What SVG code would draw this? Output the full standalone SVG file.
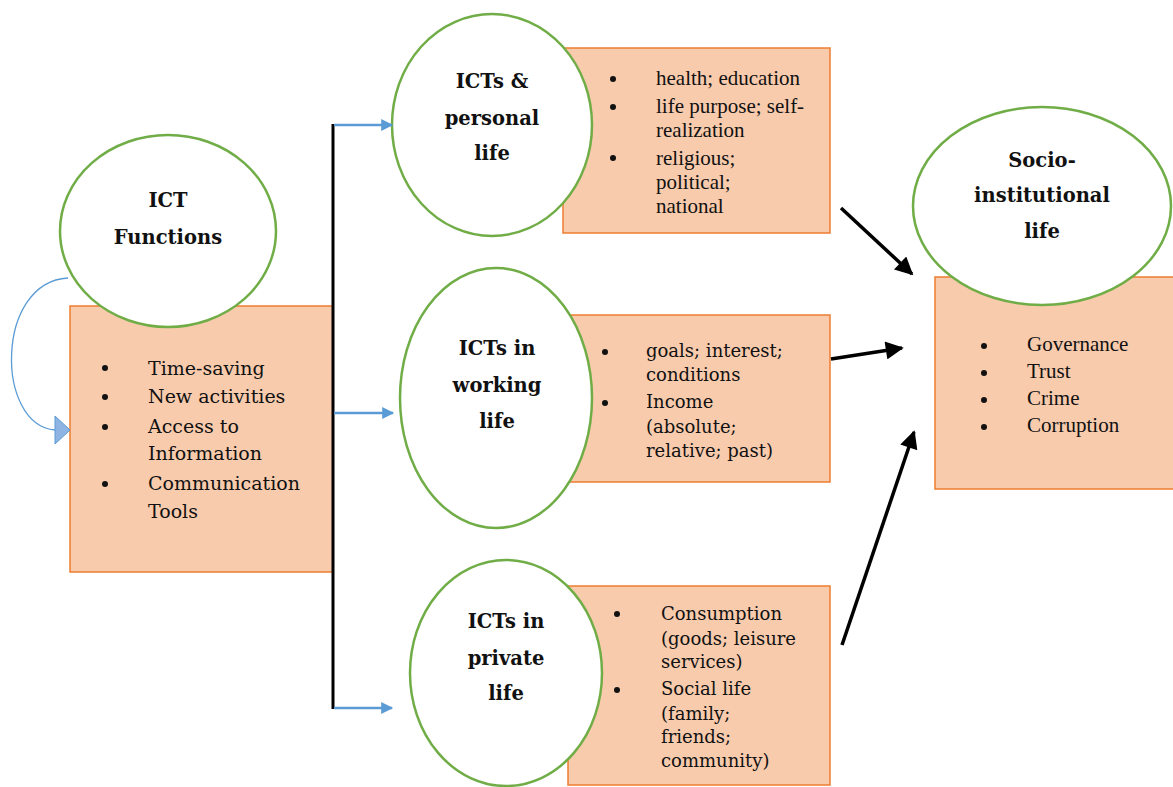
<svg xmlns="http://www.w3.org/2000/svg" width="1173" height="787" viewBox="0 0 1173 787">
<defs>
<style>
.box{fill:#F8CBAD;stroke:#ED7D31;stroke-width:1.5}
.ell{fill:#fff;stroke:#70AD47;stroke-width:2.5}
.lbl{font-family:"DejaVu Serif","Liberation Serif",serif;font-weight:bold;font-size:19.5px;fill:#111;text-anchor:middle}
.g{font-family:"DejaVu Serif","Liberation Serif",serif;font-size:19px;fill:#111}
.g2{font-family:"DejaVu Serif","Liberation Serif",serif;font-size:18px;fill:#111}
.t{font-family:"Liberation Serif","Times New Roman",serif;font-size:21px;fill:#111}
.bul{fill:#111}
.blue{stroke:#5B9BD5;stroke-width:2.5;fill:none}
.blk{stroke:#000;stroke-width:3.5;fill:none}
</style>
<marker id="ba" viewBox="0 0 10 10" refX="9" refY="5" markerWidth="14" markerHeight="12" markerUnits="userSpaceOnUse" orient="auto">
<path d="M0,0 L10,5 L0,10 z" fill="#5B9BD5"/>
</marker>
<marker id="ka" viewBox="0 0 10 10" refX="9" refY="5" markerWidth="20" markerHeight="18" markerUnits="userSpaceOnUse" orient="auto">
<path d="M0,0 L10,5 L0,10 z" fill="#000"/>
</marker>
</defs>

<g id="ict-functions">
<rect class="box" x="70" y="306" width="263" height="266"/>
<ellipse class="ell" cx="168" cy="231" rx="108" ry="96"/>
<text class="lbl" x="168" y="207">ICT</text>
<text class="lbl" x="168" y="244">Functions</text>
<g class="g">
<circle class="bul" cx="105" cy="368" r="3"/><text x="148" y="375">Time-saving</text>
<circle class="bul" cx="105" cy="397" r="3"/><text x="148" y="403">New activities</text>
<circle class="bul" cx="105" cy="427" r="3"/><text x="148" y="433">Access to</text>
<text x="148" y="460">Information</text>
<circle class="bul" cx="105" cy="484" r="3"/><text x="148" y="490">Communication</text>
<text x="148" y="518">Tools</text>
</g>
</g>

<g id="personal-life">
<rect class="box" x="563" y="48" width="267" height="185"/>
<ellipse class="ell" cx="492" cy="125" rx="100" ry="111"/>
<text class="lbl" x="492" y="88">ICTs &amp;</text>
<text class="lbl" x="492" y="125">personal</text>
<text class="lbl" x="492" y="160">life</text>
<g class="t">
<circle class="bul" cx="613" cy="79" r="3"/><text x="656" y="85">health; education</text>
<circle class="bul" cx="613" cy="107" r="3"/><text x="656" y="113">life purpose; self-</text>
<text x="656" y="137">realization</text>
<circle class="bul" cx="613" cy="158" r="3"/><text x="656" y="165">religious;</text>
<text x="656" y="189">political;</text>
<text x="656" y="213">national</text>
</g>
</g>

<g id="working-life">
<rect class="box" x="570" y="315" width="260" height="167"/>
<ellipse class="ell" cx="496" cy="398" rx="96" ry="130"/>
<text class="lbl" x="497" y="355">ICTs in</text>
<text class="lbl" x="497" y="392">working</text>
<text class="lbl" x="497" y="428">life</text>
<g class="g2">
<circle class="bul" cx="605" cy="352" r="3"/><text x="646" y="357">goals; interest;</text>
<text x="646" y="381">conditions</text>
<circle class="bul" cx="605" cy="403" r="3"/><text x="646" y="408">Income</text>
<text x="646" y="433">(absolute;</text>
<text x="646" y="457">relative; past)</text>
</g>
</g>

<g id="private-life">
<rect class="box" x="568" y="586" width="262" height="199"/>
<ellipse class="ell" cx="506" cy="673" rx="96" ry="113"/>
<text class="lbl" x="506" y="628">ICTs in</text>
<text class="lbl" x="506" y="665">private</text>
<text class="lbl" x="506" y="700">life</text>
<g class="g2">
<circle class="bul" cx="617" cy="614" r="3"/><text x="661" y="620">Consumption</text>
<text x="661" y="645">(goods; leisure</text>
<text x="661" y="668">services)</text>
<circle class="bul" cx="617" cy="690" r="3"/><text x="661" y="695">Social life</text>
<text x="661" y="720">(family;</text>
<text x="661" y="743">friends;</text>
<text x="661" y="767">community)</text>
</g>
</g>

<g id="socio-institutional">
<rect class="box" x="935" y="277" width="240" height="212"/>
<ellipse class="ell" cx="1042" cy="206" rx="129" ry="99"/>
<text class="lbl" x="1042" y="167">Socio-</text>
<text class="lbl" x="1042" y="202">institutional</text>
<text class="lbl" x="1042" y="238">life</text>
<g class="t">
<circle class="bul" cx="984" cy="346" r="3"/><text x="1027" y="351">Governance</text>
<circle class="bul" cx="984" cy="373" r="3"/><text x="1027" y="378">Trust</text>
<circle class="bul" cx="984" cy="400" r="3"/><text x="1027" y="405">Crime</text>
<circle class="bul" cx="984" cy="427" r="3"/><text x="1027" y="432">Corruption</text>
</g>
</g>

<g id="connectors">
<path d="M68,278 C-5,282 -5,425 55,430" stroke="#5B9BD5" stroke-width="1.3" fill="none"/>
<path d="M55,416 L70,430 L55,444 z" fill="#8DB4E2" stroke="#5B9BD5" stroke-width="1"/>
<line x1="333" y1="124" x2="333" y2="709" stroke="#000" stroke-width="3"/>
<line class="blue" x1="334" y1="125" x2="392" y2="125" marker-end="url(#ba)"/>
<line class="blue" x1="334" y1="413" x2="393" y2="413" marker-end="url(#ba)"/>
<line class="blue" x1="334" y1="708" x2="392" y2="708" marker-end="url(#ba)"/>
<line class="blk" x1="841" y1="208" x2="912" y2="274" marker-end="url(#ka)"/>
<line class="blk" x1="831" y1="359" x2="902" y2="348" marker-end="url(#ka)"/>
<line class="blk" x1="842" y1="645" x2="914" y2="432" marker-end="url(#ka)"/>
</g>
</svg>
